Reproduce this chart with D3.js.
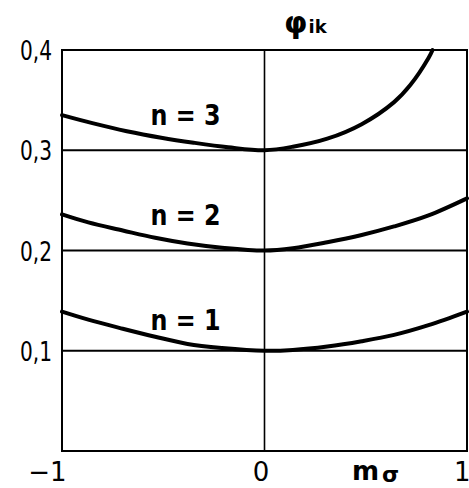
<!DOCTYPE html>
<html>
<head>
<meta charset="utf-8">
<script src="https://cdn.jsdelivr.net/npm/d3@7"></script>
<style>
  html, body { margin: 0; padding: 0; background: #fff; }
  svg { display: block; }
  text { font-family: "DejaVu Sans", sans-serif; fill: #000; }
</style>
</head>
<body>
<svg id="chart" width="469" height="488"></svg>
<script>
// m_sigma positions along the horizontal axis and phi_ik values for each n
const mSigma1 = [-1, -0.87, -0.70, -0.54, -0.38, -0.21, 0, 0.14, 0.31, 0.48, 0.64, 0.81, 1];
const phi1    = [0.139, 0.131, 0.122, 0.114, 0.1068, 0.1028, 0.100, 0.1008, 0.1042, 0.1095, 0.1158, 0.1255, 0.139];

const mSigma2 = [-1, -0.87, -0.70, -0.54, -0.38, -0.21, 0, 0.14, 0.31, 0.48, 0.64, 0.81, 1];
const phi2    = [0.236, 0.228, 0.220, 0.2127, 0.207, 0.2028, 0.200, 0.2023, 0.2083, 0.2155, 0.224, 0.235, 0.252];

const mSigma3 = [-1, -0.85, -0.68, -0.51, -0.35, -0.18, 0, 0.14, 0.31, 0.48, 0.64, 0.72, 0.81, 0.83];
const phi3    = [0.335, 0.327, 0.319, 0.3125, 0.3075, 0.303, 0.300, 0.3035, 0.3115, 0.326, 0.348, 0.365, 0.392, 0.400];

const seriesNames = ["n = 1", "n = 2", "n = 3"];
const yTicks = [0.1, 0.2, 0.3, 0.4];
const yTickLabels = ["0,1", "0,2", "0,3", "0,4"];
const xTicks = [-1, 0, 1];
const xTickLabels = ["\u22121", "0", "1"];

const series = [
  { name: seriesNames[0], x: mSigma1, y: phi1 },
  { name: seriesNames[1], x: mSigma2, y: phi2 },
  { name: seriesNames[2], x: mSigma3, y: phi3 }
];

const svg = d3.select("#chart");
const x = d3.scaleLinear().domain([-1, 1]).range([62, 467]);
const y = d3.scaleLinear().domain([0, 0.4]).range([451, 50]);

// horizontal grid lines
svg.append("g").selectAll("line")
  .data([0.1, 0.2, 0.3])
  .join("line")
  .attr("x1", x(-1)).attr("x2", x(1))
  .attr("y1", d => y(d)).attr("y2", d => y(d))
  .attr("stroke", "#000").attr("stroke-width", 1.8);

// vertical line at m_sigma = 0
svg.append("line")
  .attr("x1", x(0)).attr("x2", x(0))
  .attr("y1", y(0.4)).attr("y2", y(0))
  .attr("stroke", "#000").attr("stroke-width", 1.6);

// frame
svg.append("rect")
  .attr("x", x(-1)).attr("y", y(0.4))
  .attr("width", x(1) - x(-1)).attr("height", y(0) - y(0.4))
  .attr("fill", "none").attr("stroke", "#000").attr("stroke-width", 2);

// left axis: labels only
const yAxis = svg.append("g")
  .attr("transform", `translate(${x(-1)},0)`)
  .call(d3.axisLeft(y).tickValues(yTicks).tickSize(0).tickPadding(10)
    .tickFormat((d, i) => yTickLabels[i]));
yAxis.select(".domain").remove();
yAxis.selectAll("text")
  .style("font-size", "27px")
  .attr("textLength", 32)
  .attr("lengthAdjust", "spacingAndGlyphs")
  .attr("dy", "0.36em");

// bottom axis: labels only
const xAxis = svg.append("g")
  .attr("transform", `translate(0,${y(0)})`)
  .call(d3.axisBottom(x).tickValues(xTicks).tickSize(0).tickPadding(12)
    .tickFormat((d, i) => xTickLabels[i]));
xAxis.select(".domain").remove();
xAxis.selectAll("text")
  .style("font-size", "26px")
  .attr("text-anchor", d => d === -1 ? "end" : (d === 1 ? "end" : "middle"))
  .attr("x", d => d === -1 ? 4 : (d === 1 ? 3 : -4));

// curves
const line = d3.line()
  .x(d => x(d[0]))
  .y(d => y(d[1]))
  .curve(d3.curveCatmullRom.alpha(0.5));

svg.append("g").selectAll("path")
  .data(series)
  .join("path")
  .attr("d", s => line(s.x.map((v, i) => [v, s.y[i]])))
  .attr("fill", "none")
  .attr("stroke", "#000")
  .attr("stroke-width", 4)
  .attr("stroke-linecap", "round");

// curve labels
const labelPos = [
  { mx: -0.39, v: 0.121 },
  { mx: -0.39, v: 0.225 },
  { mx: -0.39, v: 0.325 }
];
svg.append("g").selectAll("text")
  .data(series)
  .join("text")
  .attr("x", (s, i) => x(labelPos[i].mx))
  .attr("y", (s, i) => y(labelPos[i].v))
  .attr("text-anchor", "middle")
  .attr("textLength", 70)
  .attr("lengthAdjust", "spacingAndGlyphs")
  .style("font-size", "29px")
  .style("font-weight", "bold")
  .text(s => s.name);

// axis titles
const yTitle = svg.append("text").attr("x", 284).attr("y", 33)
  .style("font-weight", "bold");
yTitle.append("tspan").style("font-size", "30px").text("\u03C6");
yTitle.append("tspan").style("font-size", "18px").attr("dx", 1).text("ik");

const xTitle = svg.append("text").attr("x", 352).attr("y", 480)
  .style("font-weight", "bold");
xTitle.append("tspan").style("font-size", "26px").text("m");
xTitle.append("tspan").style("font-size", "22px").attr("dx", 3).attr("dy", 2).text("\u03C3");
</script>
</body>
</html>
